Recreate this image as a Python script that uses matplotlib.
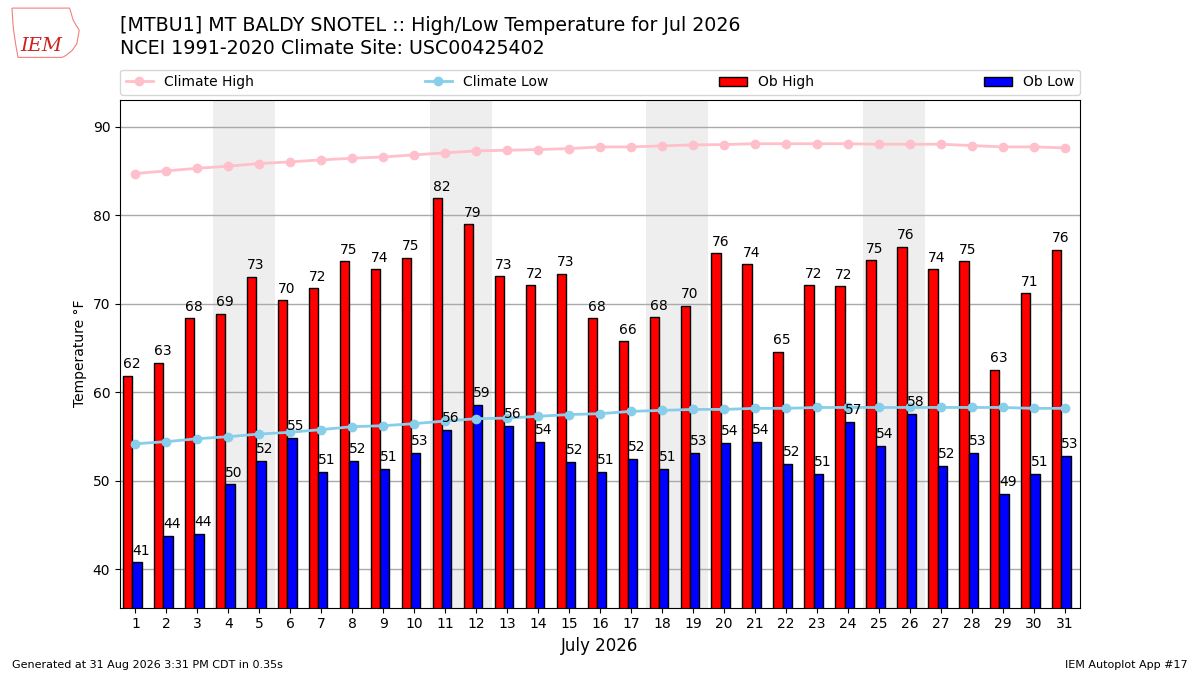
import matplotlib
matplotlib.use("Agg")
import matplotlib.pyplot as plt
from matplotlib.patches import Polygon
import numpy as np

days = np.arange(1, 32)
ob_high = [61.9, 63.35, 68.4, 68.87, 73.05, 70.45, 71.8, 74.85, 73.95, 75.2,
           81.95, 79.0, 73.1, 72.14, 73.4, 68.4, 65.8, 68.5, 69.8, 75.75,
           74.5, 64.6, 72.14, 72.03, 74.96, 76.45, 73.95, 74.85, 62.56, 71.24, 76.1]
ob_low = [40.8, 43.8, 44.06, 49.6, 52.3, 54.9, 51.05, 52.3, 51.4, 53.2,
          55.8, 58.6, 56.24, 54.44, 52.18, 51.05, 52.5, 51.4, 53.2, 54.3,
          54.44, 51.95, 50.83, 56.7, 53.98, 57.6, 51.7, 53.2, 48.57, 50.83, 52.86]
clim_high = [84.73, 85.03, 85.33, 85.56, 85.86, 86.05, 86.27, 86.46, 86.6, 86.84,
             87.07, 87.29, 87.36, 87.44, 87.55, 87.74, 87.74, 87.85, 87.97, 88.0,
             88.1, 88.1, 88.1, 88.1, 88.04, 88.04, 88.04, 87.89, 87.74, 87.74, 87.63]
clim_low = [54.2, 54.44, 54.77, 55.0, 55.3, 55.5, 55.8, 56.13, 56.24, 56.47,
            56.77, 57.03, 57.1, 57.3, 57.5, 57.6, 57.86, 57.97, 58.08, 58.08,
            58.2, 58.2, 58.3, 58.3, 58.3, 58.3, 58.3, 58.3, 58.3, 58.2, 58.2]
weekends = [(4, 5), (11, 12), (18, 19), (25, 26)]

fig = plt.figure(figsize=(12, 6.75), dpi=100)
ax = fig.add_axes([0.1, 0.1, 0.8, 0.752])

for a, b in weekends:
    ax.axvspan(a - 0.5, b + 0.5, color="#eeeeee", zorder=0, lw=0)

ax.plot(days, clim_high, color="pink", marker="o", lw=2, label="Climate High", zorder=3)
ax.plot(days, clim_low, color="skyblue", marker="o", lw=2, label="Climate Low", zorder=3)
ax.bar(days - 0.4, ob_high, width=0.3, align="edge", color="r", edgecolor="k",
       label="Ob High", zorder=2)
ax.bar(days - 0.1, ob_low, width=0.3, align="edge", color="b", edgecolor="k",
       label="Ob Low", zorder=2)

for d, h, l in zip(days, ob_high, ob_low):
    ax.text(d - 0.4, h + 0.5, f"{h:.0f}", ha="left", va="bottom", fontsize=10, zorder=4)
    ax.text(d - 0.1, l + 0.5, f"{l:.0f}", ha="left", va="bottom", fontsize=10, zorder=4)

ax.set_xlim(0.5, 31.5)
ax.set_ylim(35.7, 93.05)
ax.set_xticks(days)
ax.set_xticklabels([str(d) for d in days])
ax.tick_params(labelsize=10)
ax.yaxis.grid(True, color="#aaaaaa", lw=1)
ax.set_axisbelow(True)
ax.set_ylabel("Temperature °F", fontsize=10)
ax.set_xlabel("July 2026", fontsize=12)

ax.legend(bbox_to_anchor=(0.0, 1.01, 1.0, 0.05), loc="lower left", ncol=4,
          mode="expand", borderaxespad=0.0, fontsize=10)

fig.text(0.1, 0.977, "[MTBU1] MT BALDY SNOTEL :: High/Low Temperature for Jul 2026\n"
         "NCEI 1991-2020 Climate Site: USC00425402", fontsize=13.7, va="top",
         linespacing=1.3)

# rough IEM logo: state outline plus text
outline = [(0.010, 0.988), (0.058, 0.988), (0.061, 0.970), (0.066, 0.955),
           (0.064, 0.935), (0.060, 0.925), (0.055, 0.918), (0.052, 0.915),
           (0.015, 0.915), (0.013, 0.935), (0.011, 0.960)]
fig.add_artist(Polygon(outline, closed=True, fill=False, edgecolor="#f08080",
                       lw=0.8, transform=fig.transFigure))
fig.text(0.017, 0.925, "IEM", color="#cc2222", fontsize=14, style="italic",
         family="DejaVu Serif")
fig.text(0.01, 0.01, "Generated at 31 Aug 2026 3:31 PM CDT in 0.35s", fontsize=8)
fig.text(0.99, 0.01, "IEM Autoplot App #17", fontsize=8, ha="right")

fig.savefig("out.png", dpi=100)
